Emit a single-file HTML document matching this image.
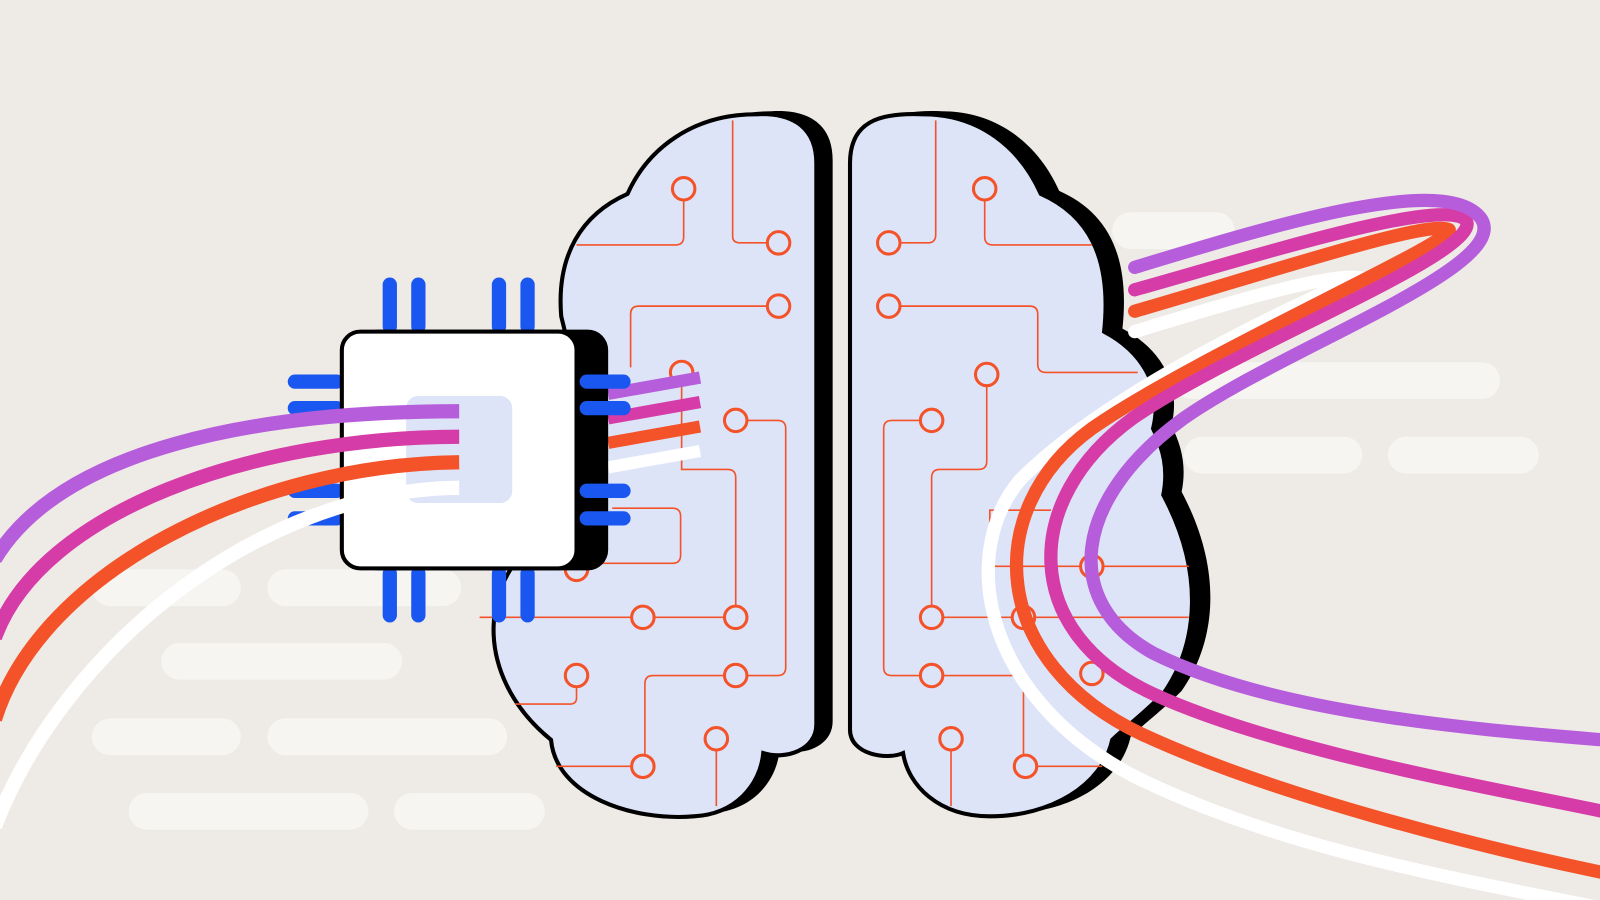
<!DOCTYPE html>
<html><head><meta charset="utf-8"><style>html,body{margin:0;padding:0;background:#eeebe6;overflow:hidden}svg{display:block}</style></head>
<body>
<svg width="1600" height="900" viewBox="0 0 1568 882" xmlns="http://www.w3.org/2000/svg">
<rect width="1568" height="882" fill="#eeebe6"/>
<g fill="#f6f5f2">
<rect x="1090" y="208" width="120" height="36" rx="18"/>
<rect x="1150" y="355" width="320" height="36" rx="18"/>
<rect x="1160" y="428" width="175" height="36" rx="18"/>
<rect x="1360" y="428" width="148" height="36" rx="18"/>
<rect x="90" y="558" width="146" height="36" rx="18"/>
<rect x="262" y="558" width="190" height="36" rx="18"/>
<rect x="158" y="630" width="236" height="36" rx="18"/>
<rect x="90" y="704" width="146" height="36" rx="18"/>
<rect x="262" y="704" width="235" height="36" rx="18"/>
<rect x="126" y="777" width="235" height="36" rx="18"/>
<rect x="386" y="777" width="148" height="36" rx="18"/>
</g>
<!-- brain shadows -->
<g fill="#000">
<path transform="translate(16,-3)" d="M800,160 C800,120 770,110 740,112 C680,112 635,145 615,190 C570,210 545,250 550,310 C555,330 560,350 560,370 C540,420 545,470 540,520 C470,560 460,660 540,725 C545,780 620,805 680,800 C720,798 745,770 748,738 C770,745 800,735 800,710 Z"/>
<path transform="translate(18,-3)" d="M833,160 C833,120 860,110 905,112 C960,112 1000,145 1020,190 C1065,210 1090,250 1082,325 C1120,345 1140,380 1130,420 C1140,440 1145,460 1140,485 C1180,560 1175,630 1140,680 C1120,700 1100,715 1090,725 C1080,770 1030,800 970,800 C920,800 890,770 885,738 C870,745 833,740 833,715 Z"/>
</g>
<g fill="#dde4f8" stroke="#000" stroke-width="4">
<path d="M800,160 C800,120 770,110 740,112 C680,112 635,145 615,190 C570,210 545,250 550,310 C555,330 560,350 560,370 C540,420 545,470 540,520 C470,560 460,660 540,725 C545,780 620,805 680,800 C720,798 745,770 748,738 C770,745 800,735 800,710 Z"/>
<path d="M833,160 C833,120 860,110 905,112 C960,112 1000,145 1020,190 C1065,210 1090,250 1082,325 C1120,345 1140,380 1130,420 C1140,440 1145,460 1140,485 C1180,560 1175,630 1140,680 C1120,700 1100,715 1090,725 C1080,770 1030,800 970,800 C920,800 890,770 885,738 C870,745 833,740 833,715 Z"/>
</g>
<!-- circuits -->
<g fill="none" stroke="#f4532a" stroke-width="1.6">
<path d="M670,197 V232 Q670,240 662,240 H565"/>
<path d="M718,118 V232 Q718,238 726,238 H751"/>
<path d="M751,300 H626 Q618,300 618,308 V360"/>
<path d="M733,412 H762 Q770,412 770,420 V654 Q770,662 762,662 H733"/>
<path d="M668,377 V460 H713 Q721,460 721,468 V593"/>
<path d="M600,498 H659 Q667,498 667,506 V544 Q667,552 659,552 H590"/>
<path d="M470,605 H618 M642,605 H709"/>
<path d="M709,662 H640 Q632,662 632,670 V739"/>
<path d="M565,674 V684 Q565,690 558,690 H505"/>
<path d="M545,751 H618 M702,736 V790"/>
<path d="M917,118 V230 Q917,238 909,238 H883"/>
<path d="M965,197 V232 Q965,240 973,240 H1070"/>
<path d="M883,300 H1009 Q1017,300 1017,308 V357 Q1017,365 1025,365 H1115"/>
<path d="M967,379 V452 Q967,460 959,460 H921 Q913,460 913,468 V593"/>
<path d="M901,412 H874 Q866,412 866,420 V654 Q866,662 874,662 H901"/>
<path d="M925,605 H991 M1015,605 H1165 M925,662 H993"/>
<path d="M1082,555 H1165 M1058,555 H970 V500 H1030"/>
<path d="M932,736 V790 M1017,751 H1080 M1003,739 V675"/>
</g>
<g fill="#dde4f8" stroke="#f4532a" stroke-width="3">
<circle cx="670" cy="185" r="11"/><circle cx="763" cy="238" r="11"/><circle cx="763" cy="300" r="11"/>
<circle cx="668" cy="365" r="11"/><circle cx="721" cy="412" r="11"/><circle cx="565" cy="558" r="11"/>
<circle cx="630" cy="605" r="11"/><circle cx="721" cy="605" r="11"/><circle cx="721" cy="662" r="11"/>
<circle cx="565" cy="662" r="11"/><circle cx="702" cy="724" r="11"/><circle cx="630" cy="751" r="11"/>
<circle cx="965" cy="185" r="11"/><circle cx="871" cy="238" r="11"/><circle cx="871" cy="300" r="11"/>
<circle cx="967" cy="367" r="11"/><circle cx="913" cy="412" r="11"/><circle cx="913" cy="605" r="11"/>
<circle cx="1003" cy="605" r="11"/><circle cx="913" cy="662" r="11"/><circle cx="1070" cy="555" r="11"/>
<circle cx="1070" cy="660" r="11"/><circle cx="932" cy="724" r="11"/><circle cx="1005" cy="751" r="11"/>
</g>
<!-- right wire stubs from chip -->
<g fill="none" stroke-width="12" stroke-linecap="butt">
<path d="M596,386 L686,370" stroke="#b65ddb"/>
<path d="M596,410 L686,394" stroke="#d63ca8"/>
<path d="M596,434 L686,418" stroke="#f4532a"/>
<path d="M596,458 L686,442" stroke="#ffffff"/>
</g>
<!-- right loop wires -->
<g fill="none" stroke-width="13" stroke-linecap="round">
<path d="M1112,325 C1200,298 1300,268 1330,272 C1200,330 1070,400 1000,470 C940,540 960,680 1110,760 C1250,830 1420,860 1570,890" stroke="#ffffff"/>
<path d="M1112,305 C1250,265 1400,215 1420,225 C1430,235 1170,350 1070,420 C960,500 970,650 1120,720 C1250,780 1450,830 1570,855" stroke="#f4532a"/>
<path d="M1112,284 C1250,245 1410,195 1436,215 C1460,245 1210,340 1110,410 C1000,490 1000,620 1130,680 C1250,735 1450,770 1570,795" stroke="#d63ca8"/>
<path d="M1112,262 C1250,220 1420,168 1452,215 C1480,262 1260,340 1160,410 C1050,490 1040,590 1130,640 C1250,700 1450,715 1570,725" stroke="#b65ddb"/>
</g>
<!-- chip -->
<g fill="#1a56f0">
<rect x="375" y="272" width="14" height="55" rx="7"/><rect x="403" y="272" width="14" height="55" rx="7"/>
<rect x="482" y="272" width="14" height="55" rx="7"/><rect x="510" y="272" width="14" height="55" rx="7"/>
<rect x="375" y="555" width="14" height="55" rx="7"/><rect x="403" y="555" width="14" height="55" rx="7"/>
<rect x="482" y="555" width="14" height="55" rx="7"/><rect x="510" y="555" width="14" height="55" rx="7"/>
<rect x="282" y="367" width="55" height="14" rx="7"/><rect x="282" y="393" width="55" height="14" rx="7"/>
<rect x="282" y="474" width="55" height="14" rx="7"/><rect x="282" y="501" width="55" height="14" rx="7"/>
</g>
<rect x="350" y="323" width="246" height="236" rx="20" fill="#000"/>
<g fill="#1a56f0">
<rect x="568" y="367" width="50" height="14" rx="7"/><rect x="568" y="393" width="50" height="14" rx="7"/>
<rect x="568" y="474" width="50" height="14" rx="7"/><rect x="568" y="501" width="50" height="14" rx="7"/>
</g>
<rect x="335" y="325" width="230" height="232" rx="18" fill="#fff" stroke="#000" stroke-width="4"/>
<rect x="398" y="388" width="104" height="105" rx="12" fill="#dde4f8"/>
<!-- left wires -->
<g fill="none" stroke-width="14">
<path d="M450,478 C250,480 60,640 -5,810" stroke="#ffffff"/>
<path d="M450,453 C250,455 40,560 -5,705" stroke="#f4532a"/>
<path d="M450,428 C250,428 40,500 -5,625" stroke="#d63ca8"/>
<path d="M450,403 C250,403 60,440 -5,548" stroke="#b65ddb"/>
</g>
</svg>
</body></html>
